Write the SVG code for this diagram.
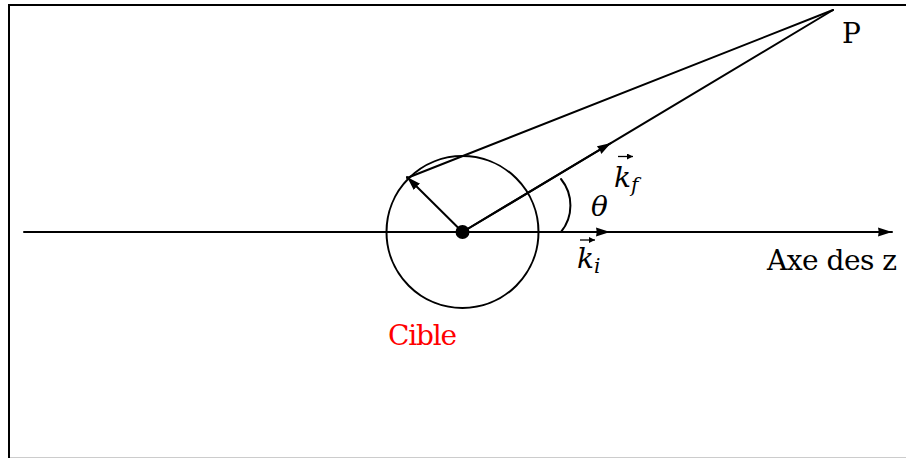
<svg xmlns="http://www.w3.org/2000/svg" width="906" height="458" viewBox="0 0 906 458">
<style>
.ln{stroke:#000;stroke-width:2;fill:none;stroke-linecap:round}
.arr{marker-end:url(#ah)}
.vec{stroke:#000;stroke-width:1.3;fill:none;marker-end:url(#vh)}
</style>
<defs>
<marker id="ah" markerUnits="userSpaceOnUse" markerWidth="16" markerHeight="12" refX="14" refY="5" orient="auto">
<path d="M0,0.5 L14,5 L0,9.5 Q1.5,5 0,0.5 Z" fill="#000"/>
</marker>
<marker id="vh" markerUnits="userSpaceOnUse" markerWidth="7" markerHeight="7" refX="6" refY="3" orient="auto">
<path d="M0,0 L6,3 L0,6 Z" fill="#000"/>
</marker>
</defs>
<rect id="frame" x="9" y="5" width="910" height="453.8" fill="none" stroke="#000" stroke-width="2"/>
<g id="connectors">
<line class="ln arr" x1="24" y1="232" x2="892" y2="232"/>
<line class="ln arr" x1="462.5" y1="232" x2="610" y2="232"/>
<line class="ln" x1="462.5" y1="232" x2="833" y2="10"/>
<line class="ln arr" x1="462.5" y1="232" x2="611" y2="143"/>
<line class="ln" x1="407" y1="178" x2="833" y2="10"/>
<line class="ln arr" x1="462.5" y1="232" x2="407" y2="177"/>
<path class="ln" d="M561,232 A42 42 0 0 0 561,179"/>
</g>
<g font-family="'DejaVu Serif', serif" font-size="28" fill="#000">
<g id="cible">
<circle cx="462.5" cy="232" r="76" class="ln"/>
<circle cx="462.5" cy="232" r="7" fill="#000"/>
<text x="388" y="345" fill="#ff0000" textLength="69">Cible</text>
</g>
<g id="P"><text x="842" y="43">P</text></g>
<g id="axe"><text x="767" y="270" textLength="130">Axe des z</text></g>
<g id="theta"><text x="591" y="216" font-style="italic">θ</text></g>
<g id="ki">
<text x="577" y="268" font-style="italic">k<tspan font-size="20" dy="5">i</tspan></text>
<path class="vec" d="M580,240 L595,240"/>
</g>
<g id="kf">
<text x="614" y="187" font-style="italic">k<tspan font-size="20" dy="5">f</tspan></text>
<path class="vec" d="M618,156.5 L633,156.5"/>
</g>
</g>
</svg>
